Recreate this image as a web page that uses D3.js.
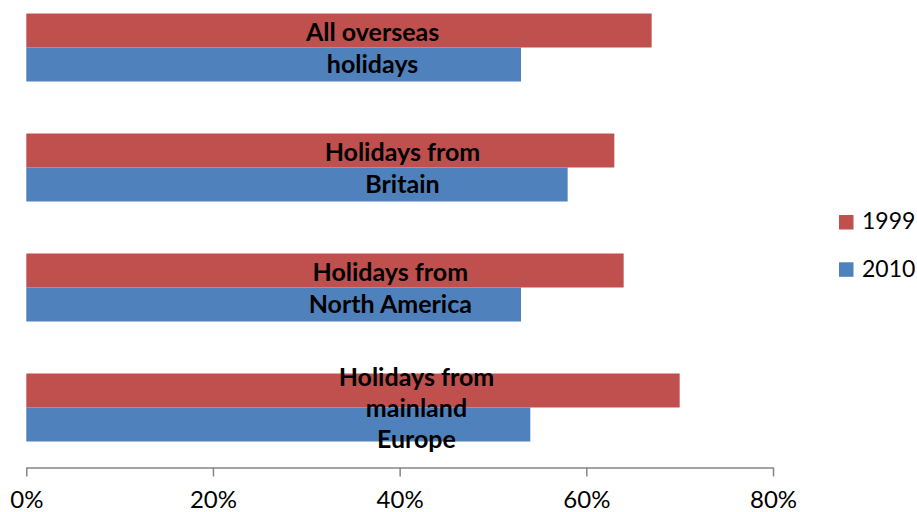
<!DOCTYPE html>
<html>
<head>
<meta charset="utf-8">
<script src="https://cdn.jsdelivr.net/npm/d3@7"></script>
<style>
  body { margin: 0; background: #fff; }
  svg { display: block; }
</style>
</head>
<body>
<svg id="chart" width="917" height="512"></svg>
<script>
// Share of holidays (%) by origin, 1999 vs 2010
const categories = [
  "All overseas holidays",
  "Holidays from Britain",
  "Holidays from North America",
  "Holidays from mainland Europe"
];
const categoryLines = [
  ["All overseas", "holidays"],
  ["Holidays from", "Britain"],
  ["Holidays from", "North America"],
  ["Holidays from", "mainland", "Europe"]
];
const seriesNames = ["1999", "2010"];
const values1999 = [67, 63, 64, 70];
const values2010 = [53, 58, 53, 54];
const xTicks = [0, 20, 40, 60, 80];

// ---- layout ----
const W = 917, H = 512;
const FONT = "Lato, 'Open Sans', sans-serif";
const colors = { "1999": "#C0504D", "2010": "#4F81BD" };
const axisY = 467.5;
// horizontal centre of each category caption, in axis units
const captionAt = [37.1, 40.3, 39.0, 41.8];

const svg = d3.select("#chart");

const x = d3.scaleLinear().domain([0, 80]).range([26.3, 773]);
const y = d3.scaleBand()
  .domain(categories)
  .range([axisY - 480, axisY])
  .paddingInner(0.4333)
  .paddingOuter(0.2167);
const ySub = d3.scaleBand().domain(seriesNames).range([0, y.bandwidth()]);

const rows = categories.map((c, i) => ({
  category: c,
  lines: categoryLines[i],
  caption: captionAt[i],
  values: [
    { series: "1999", value: values1999[i] },
    { series: "2010", value: values2010[i] }
  ]
}));

// bars
const groups = svg.append("g").selectAll("g")
  .data(rows)
  .join("g")
  .attr("transform", d => `translate(0,${y(d.category)})`);

groups.selectAll("rect")
  .data(d => d.values)
  .join("rect")
  .attr("x", x(0))
  .attr("y", d => ySub(d.series))
  .attr("width", d => x(d.value) - x(0))
  .attr("height", ySub.bandwidth())
  .attr("fill", d => colors[d.series]);

// category captions over the bars
const lineGap = 31.5;
groups.append("text")
  .attr("font-family", FONT)
  .attr("font-weight", "bold")
  .attr("font-size", 25)
  .attr("fill", "#000")
  .attr("text-anchor", "middle")
  .each(function (d) {
    const t = d3.select(this);
    const n = d.lines.length;
    const mid = y.bandwidth() / 2 + 9.5;
    d.lines.forEach((ln, k) => {
      t.append("tspan")
        .attr("x", x(d.caption))
        .attr("y", mid + (k - (n - 1) / 2) * lineGap)
        .text(ln);
    });
  });

// x axis
const axis = d3.axisBottom(x)
  .tickValues(xTicks)
  .tickFormat(d => d + "%")
  .tickSize(9)
  .tickSizeOuter(0);

svg.append("g")
  .attr("transform", `translate(0,${axisY})`)
  .call(axis)
  .call(g => g.select(".domain").attr("stroke", "#868686").attr("stroke-width", 1.5))
  .call(g => g.selectAll(".tick line").attr("stroke", "#868686").attr("stroke-width", 1.5))
  .call(g => g.selectAll(".tick text")
    .attr("dy", null)
    .attr("y", 40.5)
    .attr("fill", "#000")
    .attr("font-family", FONT)
    .attr("font-size", 24));

// legend
const legend = svg.append("g").selectAll("g")
  .data(seriesNames)
  .join("g")
  .attr("transform", (d, i) => `translate(839,${215 + i * 47.3})`);

legend.append("rect")
  .attr("width", 14.5)
  .attr("height", 14.5)
  .attr("fill", d => colors[d]);

legend.append("text")
  .attr("x", 23)
  .attr("y", 14.3)
  .attr("font-family", FONT)
  .attr("font-size", 23)
  .attr("fill", "#000")
  .text(d => d);
</script>
</body>
</html>
